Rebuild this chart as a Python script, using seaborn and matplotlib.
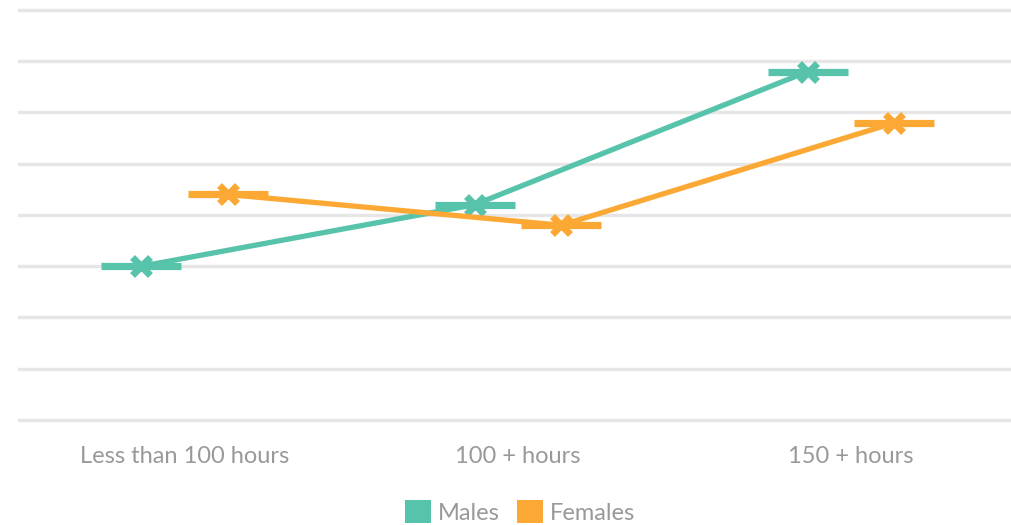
import matplotlib
matplotlib.use("Agg")
import matplotlib.pyplot as plt
from matplotlib.patches import Patch
import pandas as pd
import seaborn as sns

# Data
categories = ["Less than 100 hours", "100 + hours", "150 + hours"]
males = [3.0, 4.2, 6.8]
females = [4.4, 3.8, 5.8]
series_names = ["Males", "Females"]
colors = ["#57C3AA", "#FBA834"]

df = pd.DataFrame({
    "category": categories * 2,
    "value": males + females,
    "group": [series_names[0]] * 3 + [series_names[1]] * 3,
})

sns.set_theme(style="white")
plt.rcParams["font.family"] = ["Lato", "DejaVu Sans"]

fig = plt.figure(figsize=(10.11, 5.25), dpi=100)
ax = fig.add_axes([18 / 1011, 0.1903, 1 - 18 / 1011, 0.8004])

sns.pointplot(
    data=df, x="category", y="value", hue="group",
    order=categories, hue_order=series_names, palette=colors,
    dodge=0.26, errorbar=None, markers="x", linestyles="-",
    linewidth=3.8, markersize=12.5, markeredgewidth=5,
    legend=False, ax=ax,
)

# Horizontal bar through each point, layered just above its own line
series_lines = list(ax.lines)
for i, (ln, col) in enumerate(zip(series_lines, colors)):
    ln.set_zorder(3 + 2 * i)
    ln.set_solid_capstyle("round")
    xy = ln.get_xydata()
    ax.plot(xy[:, 0], xy[:, 1], linestyle="none", marker="_",
            markersize=58, markeredgewidth=5.2, color=col,
            zorder=3.5 + 2 * i)

ax.set_ylim(-0.1, 8.1)
ax.set_xlim(-0.5, 2.48)
ax.set_yticks(range(0, 9))
ax.set_yticklabels([])
ax.tick_params(axis="y", length=0)
ax.tick_params(axis="x", length=0, pad=15, labelsize=17, labelcolor="#999999")
ax.yaxis.grid(True, color="#e6e6e6", linewidth=2.4, solid_capstyle="round")
ax.xaxis.grid(False)
ax.set_axisbelow(True)
for s in ax.spines.values():
    s.set_visible(False)
ax.set_xlabel("")
ax.set_ylabel("")

handles = [Patch(facecolor=c, edgecolor="none", label=n) for c, n in zip(colors, series_names)]
fig.legend(handles=handles, loc="center", bbox_to_anchor=(520 / 1011, 1 - 512 / 525),
           ncol=2, frameon=False, fontsize=17, labelcolor="#999999",
           handlelength=1.1, handleheight=1.1, handletextpad=0.3, columnspacing=0.7)

fig.savefig("out.png", dpi=100)
